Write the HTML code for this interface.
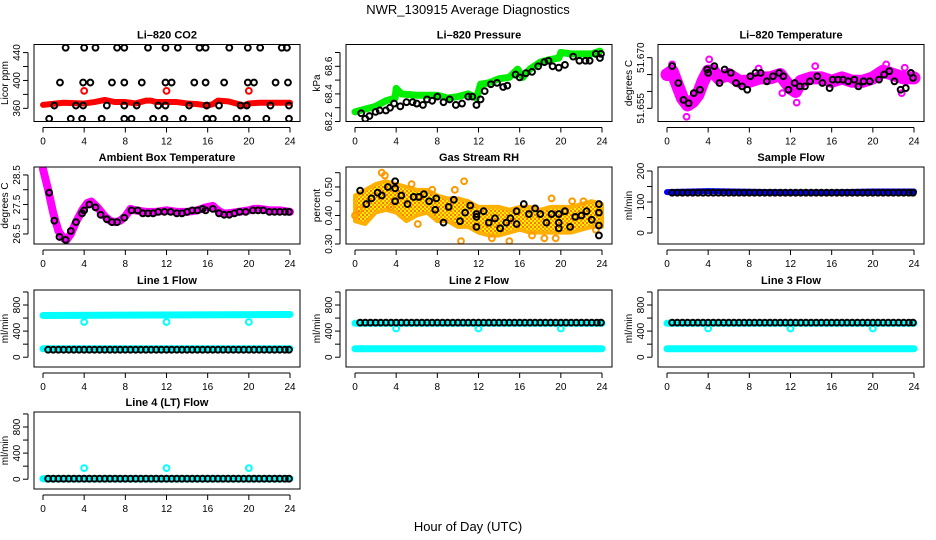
<!DOCTYPE html>
<html><head><meta charset="utf-8">
<style>
html,body{margin:0;padding:0;background:#fff;}
svg{display:block;font-family:"Liberation Sans",Arial,sans-serif;}
</style></head>
<body>
<svg id="chart" width="936" height="540" viewBox="0 0 936 540" xmlns="http://www.w3.org/2000/svg">
<defs>
<pattern id="rhpat" width="4" height="4" patternUnits="userSpaceOnUse">
<rect width="4" height="4" fill="#ffee00"/>
<rect width="2" height="2" fill="#ff9900"/>
<rect x="2" y="2" width="2" height="2" fill="#ff7700"/>
</pattern>
</defs>
<text x="468" y="14" text-anchor="middle" font-size="13">NWR_130915  Average Diagnostics</text>
<text x="468" y="531" text-anchor="middle" font-size="13">Hour of Day (UTC)</text>
</svg>
<script>
// ---------- data arrays ----------
const xTicks = [0,4,8,12,16,20,24];
const specialHours = [4,12,20];
const halfHours = [0.5,1,1.5,2,2.5,3,3.5,4,4.5,5,5.5,6,6.5,7,7.5,8,8.5,9,9.5,10,10.5,11,11.5,12,12.5,13,13.5,14,14.5,15,15.5,16,16.5,17,17.5,18,18.5,19,19.5,20,20.5,21,21.5,22,22.5,23,23.5,23.9];

// CO2
const co2TopHours = [2.2,4.0,5.1,7.2,7.9,10.2,11.9,13.1,15.2,15.8,18.1,19.9,21.1,23.2,23.7];
const co2HiHours = [1.65,3.9,4.6,6.7,7.9,9.6,11.9,12.5,14.7,15.8,17.6,19.9,20.5,22.6,23.8];
const co2MidHours = [1.1,3.2,3.9,6.2,7.9,9.1,11.2,11.9,14.2,15.9,17.1,19.2,19.8,22.1,23.9];
const co2LowHours = [0.6,2.7,3.8,5.7,7.9,8.6,10.7,11.8,13.6,15.9,16.5,18.8,19.8,21.7,23.9];
const co2Levels = [447,397,364,345];
const co2BandHours = [0,2,4,5,6,7,8,9,10,10.5,11,12,13,14,15,16,16.5,17,18,19,19.5,20,21,22,23,24];
const co2BandVals = [365,368,367,369,372,369,369,367,371,371,369,369,369,367,366,364,366,371,370,366,364,367,368,368,368,368];
const co2RedCircle = 385;

// Pressure
const presBandHours = [0,1,2,3,3.9,4,4.5,6,8,9,10,11,11.8,12.2,13,14,15,15.8,16.3,17,18,19,19.8,20,21,22,23,23.8];
const presBandVals = [68.27,68.29,68.31,68.35,68.37,68.44,68.40,68.39,68.39,68.37,68.38,68.40,68.37,68.47,68.48,68.51,68.52,68.58,68.52,68.58,68.63,68.65,68.66,68.70,68.69,68.69,68.69,68.71];
const presPtHours = [0.6,1,1.4,2,2.4,3,3.4,3.8,4.4,5,5.6,6,6.6,7,7.5,8,8.6,9.2,9.8,10.4,11,11.4,11.8,12.2,12.6,13.2,13.8,14.4,14.8,15.6,16,16.6,17.2,17.8,18.4,18.8,19.2,19.8,20.4,21.2,21.8,22.4,22.8,23.4,23.8,23.9];
const presPtVals = [68.26,68.22,68.24,68.27,68.28,68.28,68.30,68.33,68.31,68.34,68.34,68.33,68.32,68.36,68.35,68.38,68.34,68.36,68.32,68.33,68.38,68.38,68.32,68.36,68.42,68.47,68.48,68.45,68.46,68.54,68.52,68.55,68.56,68.60,68.63,68.64,68.60,68.59,68.61,68.67,68.64,68.64,68.64,68.69,68.66,68.69];

// Li-820 temperature
const tempBandHours = [0,0.5,1,1.5,2,2.5,3,3.5,4,4.5,5,6,7,8,9,10,11,12,12.5,13,14,15,16,17,18,19,20,21,22,23,24];
const tempBandVals = [51.665,51.666,51.662,51.658,51.656,51.657,51.659,51.663,51.666,51.666,51.664,51.665,51.663,51.663,51.664,51.664,51.665,51.661,51.660,51.663,51.664,51.664,51.663,51.664,51.663,51.663,51.664,51.666,51.665,51.664,51.664];
const tempOutHours = [0.5,1.9,4.1,12.6,11.2,21.3,22.8,23.1,14.4,8.9];
const tempOutVals = [51.668,51.6525,51.6695,51.6567,51.6595,51.668,51.6595,51.667,51.6675,51.6668];
const tempPtHours = [0.5,1.1,1.6,2.1,2.6,3.2,3.9,4,4.6,5.1,5.6,6.2,6.7,7.3,7.8,8.1,8.6,9.1,9.7,10.3,10.9,11.3,11.8,12.4,12.9,13.4,13.9,14.6,15.1,15.8,16.1,16.6,17.1,17.6,18.2,18.6,19.1,19.7,20.6,21.1,21.6,22.1,22.7,23.2,23.7,23.9];
const tempPtVals = [51.6675,51.6625,51.6575,51.6565,51.6595,51.6605,51.6665,51.6655,51.6675,51.6625,51.6665,51.6655,51.6625,51.6615,51.6605,51.6645,51.6655,51.6655,51.6630,51.6645,51.6655,51.6645,51.6605,51.6625,51.6615,51.6615,51.6630,51.6645,51.6625,51.6610,51.6635,51.6635,51.6635,51.6630,51.6635,51.6615,51.6630,51.6630,51.6635,51.6650,51.6660,51.6630,51.6605,51.6610,51.6655,51.6640];

// Ambient box temperature
const ambBandHours = [0,0.5,1,1.5,2,2.3,2.7,3.2,3.8,4.3,4.7,5.3,6,6.5,7,7.5,8,8.5,9,10,11,12,13,14,15,15.8,16.5,17,17.5,18,19,20,20.5,21,22,23,24];
const ambBandVals = [28.7,28.0,27.2,26.6,26.35,26.3,26.5,26.9,27.3,27.55,27.6,27.4,27.1,26.95,26.9,26.95,27.1,27.35,27.3,27.25,27.25,27.3,27.25,27.25,27.3,27.4,27.45,27.3,27.2,27.2,27.25,27.3,27.35,27.35,27.3,27.3,27.25];
const ambPtHours = [0.6,1.1,1.6,2.2,2.7,3.2,3.8,4.0,4.5,5.1,5.6,6.2,6.7,7.2,7.9,8.6,9.2,9.7,10.2,10.7,11.2,11.8,12.4,13,13.5,14,14.5,15,15.5,15.8,16.5,17.1,17.6,18.1,18.6,19.1,19.7,20.4,20.9,21.4,22,22.5,23,23.5,23.9];
const ambPtVals = [27.9,26.95,26.4,26.3,26.6,26.9,27.2,27.3,27.5,27.4,27.15,27.0,26.9,26.9,27.05,27.3,27.3,27.2,27.2,27.2,27.25,27.25,27.25,27.2,27.2,27.25,27.3,27.3,27.35,27.3,27.35,27.2,27.15,27.15,27.2,27.25,27.25,27.3,27.3,27.3,27.25,27.25,27.25,27.25,27.25];

// Gas stream RH
const rhBandHours = [0,1,2,3,4,5,6,7,8,9,10,11,12,13,14,15,16,17,18,19,20,21,22,23,24];
const rhBandUpper = [0.47,0.49,0.51,0.52,0.51,0.50,0.49,0.49,0.47,0.46,0.46,0.45,0.43,0.43,0.43,0.42,0.43,0.43,0.42,0.43,0.43,0.43,0.44,0.45,0.44];
const rhBandLower = [0.38,0.37,0.41,0.42,0.41,0.38,0.40,0.41,0.38,0.38,0.36,0.36,0.34,0.33,0.33,0.34,0.35,0.34,0.34,0.34,0.34,0.34,0.35,0.36,0.36];
const rhOutHours = [0,2.6,2.9,5.5,6.1,7.5,9.7,10.3,10.6,13.3,15.0,17.2,18.4,19.1,19.5,21.1,22.2,23.4,0.4,3.5];
const rhOutVals = [0.40,0.55,0.54,0.51,0.37,0.49,0.49,0.31,0.52,0.32,0.31,0.33,0.32,0.46,0.32,0.45,0.45,0.35,0.42,0.43];
const rhPtHours = [0.5,1.1,1.6,2.2,2.6,3.2,3.9,3.9,3.9,4.5,5.1,5.7,6.2,6.7,7.2,7.9,7.8,8.6,9.1,9.6,10.2,10.7,11.2,11.8,11.8,11.8,12.5,13,13.6,14.1,14.7,15.1,15.7,15.7,16.4,16.9,17.5,18,18.6,19.1,19.8,19.8,19.8,20.4,20.9,21.4,22,22.5,23,23.7,23.7,23.7,23.7];
const rhPtVals = [0.487,0.44,0.46,0.48,0.47,0.50,0.52,0.495,0.45,0.47,0.44,0.465,0.465,0.475,0.45,0.46,0.42,0.375,0.43,0.455,0.38,0.41,0.435,0.405,0.395,0.36,0.415,0.375,0.39,0.355,0.375,0.39,0.415,0.37,0.44,0.405,0.425,0.405,0.375,0.405,0.405,0.375,0.355,0.415,0.36,0.395,0.40,0.415,0.385,0.44,0.41,0.365,0.33];

// Sample flow
const sampleBandHours = [0,4,8,12,16,20,24];
const sampleBandVals = [132,135,133,131,131,134,134];
const samplePtVal = 130;

// Line flows: [upper band start, upper band end, lower band, special circle value, black circle level]
const line1Vals = [640,655,130,540,115];
const line2Vals = [520,520,130,440,530];
const line3Vals = [520,520,130,440,530];
const line4Vals = [8,8,8,170,8];
const lineBandHours = [0,24];

// ---------- layout ----------
const svg = document.getElementById('chart');
const NS = 'http://www.w3.org/2000/svg';
const colLeft = [34,346,658];
const rowTop = [44.5,167,290,412];
const BW = 266, BH = 77;

function mk(tag, attrs, parent){
  const e = document.createElementNS(NS, tag);
  for (const k in attrs) e.setAttribute(k, attrs[k]);
  (parent||svg).appendChild(e);
  return e;
}

function panel(c, r, title, ylab, ymin, ymax, yticks, ylabels, key){
  const L = colLeft[c], T = rowTop[r];
  const g = mk('g', {});
  
  
  const sx = h => L + 9 + h * 247 / 24;
  const sy = v => T + BH - (v - ymin) / (ymax - ymin) * BH;
  const clipId = 'clip-' + key;
  const cp = mk('clipPath', {id: clipId}, g);
  mk('rect', {x: L, y: T, width: BW, height: BH}, cp);
  const plot = mk('g', {'clip-path': 'url(#' + clipId + ')'}, g);
  
  
  const box = mk('rect', {x: L, y: T, width: BW, height: BH, fill: 'none', stroke: '#000', 'stroke-width': 1}, g);
  
  
  const t = mk('text', {x: L + BW / 2, y: T - 6, 'text-anchor': 'middle', 'font-size': 11, 'font-weight': 'bold'}, g);
  t.textContent = title;
  
  
  const xb = T + BH;
  const xa = mk('line', {x1: sx(xTicks[0]), x2: sx(xTicks[xTicks.length-1]), y1: xb + 6, y2: xb + 6, stroke: '#000'}, g);
  
  
  xTicks.forEach(v => {
    mk('line', {x1: sx(v), x2: sx(v), y1: xb + 6, y2: xb + 11, stroke: '#000'}, g);
    const tl = mk('text', {x: sx(v), y: xb + 23, 'text-anchor': 'middle', 'font-size': 10}, g);
    tl.textContent = v;
    
    
  });
  const ya = mk('line', {x1: L - 6, x2: L - 6, y1: sy(yticks[0]), y2: sy(yticks[yticks.length-1]), stroke: '#000'}, g);
  
  
  yticks.forEach((v, i) => {
    mk('line', {x1: L - 11, x2: L - 6, y1: sy(v), y2: sy(v), stroke: '#000'}, g);
    if (ylabels[i] !== '') {
      const yl = mk('text', {x: 0, y: 0, 'text-anchor': 'middle', 'font-size': 10, transform: 'translate(' + (L - 14) + ',' + sy(v) + ') rotate(-90)'}, g);
      yl.textContent = ylabels[i];
      
      
    }
  });
  const yt = mk('text', {x: 0, y: 0, 'text-anchor': 'middle', 'font-size': 10, transform: 'translate(' + (L - 26) + ',' + (T + BH / 2) + ') rotate(-90)'}, g);
  yt.textContent = ylab;
  
  
  return {plot, sx, sy, key};
}

function band(p, hours, vals, color, width){
  const pts = hours.map((h, i) => p.sx(h) + ',' + p.sy(vals[i])).join(' ');
  const e = mk('polyline', {points: pts, fill: 'none', stroke: color, 'stroke-width': width, 'stroke-linejoin': 'round', 'stroke-linecap': 'round'}, p.plot);
  
  
}
function circles(p, hours, vals, color, name){
  hours.forEach((h, i) => {
    const e = mk('circle', {cx: p.sx(h), cy: p.sy(vals[i]), r: 2.9, fill: 'none', stroke: color, 'stroke-width': 2}, p.plot);
    
    
  });
}

// CO2
let p = panel(0, 0, 'Li\u2013820 CO2', 'Licor ppm', 341.1, 451.6, [360,380,400,420,440], ['360','','400','','440'], 'co2');
band(p, co2BandHours, co2BandVals, '#ff0000', 6);
circles(p, specialHours, specialHours.map(() => co2RedCircle), '#ff0000', 'co2-red-point');
[co2TopHours, co2HiHours, co2MidHours, co2LowHours].forEach((hs, k) => circles(p, hs, hs.map(() => co2Levels[k]), '#000', 'co2-point'));

// Pressure
p = panel(1, 0, 'Li\u2013820 Pressure', 'kPa', 68.2, 68.758, [68.2,68.3,68.4,68.5,68.6,68.7], ['68.2','','68.4','','68.6',''], 'pressure');
band(p, presBandHours, presBandVals, '#00ee00', 7);
circles(p, presPtHours, presPtVals, '#000', 'pressure-point');

// Li-820 temperature
p = panel(2, 0, 'Li\u2013820 Temperature', 'degrees C', 51.6511, 51.6739, [51.655,51.660,51.665,51.670], ['51.655','','','51.670'], 'li820-temp');
band(p, tempBandHours, tempBandVals, '#ff00ff', 13);
circles(p, tempOutHours, tempOutVals, '#ff00ff', 'li820-temp-outlier');
circles(p, tempPtHours, tempPtVals, '#000', 'li820-temp-point');

// Ambient
p = panel(0, 1, 'Ambient Box Temperature', 'degrees C', 26.16, 28.77, [26.5,27.0,27.5,28.0,28.5], ['26.5','','27.5','','28.5'], 'ambient-temp');
band(p, ambBandHours, ambBandVals, '#ff00ff', 8);
circles(p, ambPtHours, ambPtVals, '#000', 'ambient-temp-point');

// Gas stream RH
p = panel(1, 1, 'Gas Stream RH', 'percent', 0.30, 0.570, [0.30,0.35,0.40,0.45,0.50,0.55], ['0.30','','0.40','','0.50',''], 'rh');
{
  const up = rhBandHours.map((h, i) => p.sx(h) + ',' + p.sy(rhBandUpper[i]));
  const lo = rhBandHours.map((h, i) => p.sx(h) + ',' + p.sy(rhBandLower[i])).reverse();
  const e = mk('polygon', {points: up.concat(lo).join(' '), fill: 'url(#rhpat)', stroke: '#ffb000', 'stroke-width': 4, 'stroke-linejoin': 'round'}, p.plot);
  
  
}
circles(p, rhOutHours, rhOutVals, '#ff9900', 'rh-outlier');
circles(p, rhPtHours, rhPtVals, '#000', 'rh-point');

// Sample flow
p = panel(2, 1, 'Sample Flow', 'ml/min', -35.5, 212.9, [0,50,100,150,200], ['0','','100','','200'], 'sample-flow');
band(p, sampleBandHours, sampleBandVals, '#0000ff', 6);
circles(p, halfHours, halfHours.map(() => samplePtVal), '#000', 'sample-flow-point');

// Line flows
const flowTicks = [0,200,400,600,800,1000];
const flowLabels = ['0','','400','','800',''];
function flowPanel(c, r, title, key, vals){
  const q = panel(c, r, title, 'ml/min', -150, 1030, flowTicks, flowLabels, key);
  band(q, lineBandHours, [vals[0], vals[1]], '#00ffff', 7);
  band(q, lineBandHours, [vals[2], vals[2]], '#00ffff', 7);
  circles(q, specialHours, specialHours.map(() => vals[3]), '#00ffff', key + '-cyan-point');
  circles(q, halfHours, halfHours.map(() => vals[4]), '#000', key + '-point');
}
flowPanel(0, 2, 'Line 1 Flow', 'line1-flow', line1Vals);
flowPanel(1, 2, 'Line 2 Flow', 'line2-flow', line2Vals);
flowPanel(2, 2, 'Line 3 Flow', 'line3-flow', line3Vals);
flowPanel(0, 3, 'Line 4 (LT) Flow', 'line4-flow', line4Vals);
</script>
</body></html>
